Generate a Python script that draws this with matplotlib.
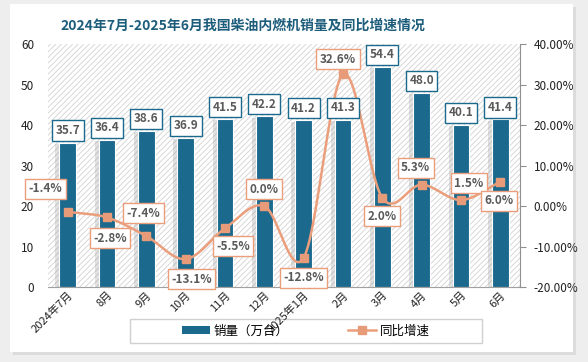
import matplotlib.pyplot as plt
import matplotlib.patheffects as pe
from matplotlib.patches import Rectangle
from matplotlib.lines import Line2D
import numpy as np

plt.rcParams['font.family'] = ['Noto Sans CJK SC', 'DejaVu Sans']
plt.rcParams['hatch.linewidth'] = 0.6

months = ['2024年7月', '8月', '9月', '10月', '11月', '12月', '2025年1月',
          '2月', '3月', '4月', '5月', '6月']
sales = [35.7, 36.4, 38.6, 36.9, 41.5, 42.2, 41.2, 41.3, 54.4, 48.0, 40.1, 41.4]
growth = [-1.4, -2.8, -7.4, -13.1, -5.5, 0.0, -12.8, 32.6, 2.0, 5.3, 1.5, 6.0]
# label offsets (pixels) for the growth labels
g_off = [(-22, 23), (3, -21), (-3, 23), (6, -20), (8, -18), (0, 17),
         (0, -20), (-5, 15), (0, -18), (-6, 17), (8, 17), (-1, -19)]

bar_c = '#1b6a8e'
line_c = '#eb9e7b'
txt_c = '#595959'

fig = plt.figure(figsize=(5.88, 3.62), dpi=100, facecolor='#eeeeee')
# white card with shadow
fig.patches.append(Rectangle((0.022, 0.018), 0.958, 0.962, transform=fig.transFigure,
                             facecolor='#dcdcdc', edgecolor='none', zorder=-10))
fig.patches.append(Rectangle((0.017, 0.028), 0.958, 0.962, transform=fig.transFigure,
                             facecolor='white', edgecolor='none', zorder=-9))
# legend frame
fig.patches.append(Rectangle((0.221, 0.0525), 0.599, 0.066, transform=fig.transFigure,
                             facecolor='white', edgecolor='#d0d0d0', linewidth=1, zorder=-5))

ax = fig.add_axes([0.0816, 0.207, 0.8027, 0.671])
ax.set_facecolor('white')
ax.add_patch(Rectangle((0, 0), 1, 1, transform=ax.transAxes, facecolor='white',
                       edgecolor='#d2d2d2', linewidth=0, hatch='//////', zorder=0))

x = np.arange(len(months))
bars = ax.bar(x, sales, width=0.42, color=bar_c, edgecolor='white', linewidth=0.8, zorder=2)
for b in bars:
    b.set_path_effects([pe.SimplePatchShadow(offset=(-3, -1), shadow_rgbFace='#8a8a8a', alpha=0.25),
                        pe.Normal()])
ax.set_xlim(-0.5, len(months) - 0.5)
ax.set_ylim(0, 60)
ax.set_yticks(range(0, 61, 10))
ax.tick_params(axis='y', length=0, labelsize=8.5, colors='#222222', pad=10)
ax.tick_params(axis='x', length=0, labelsize=8, colors='#222222', pad=2)
ax.set_xticks(x)
ax.set_xticklabels(months, rotation=45, ha='right', va='top', rotation_mode='anchor')
for s in ['top', 'right', 'left']:
    ax.spines[s].set_visible(False)
ax.spines['bottom'].set_color('#a0a0a0')

ax2 = ax.twinx()
ax2.set_ylim(-20, 40)
ax2.set_yticks(range(-20, 41, 10))
ax2.set_yticklabels([f'{t:.2f}%' for t in range(-20, 41, 10)])
ax2.tick_params(axis='y', direction='out', length=4, color='#909090', labelsize=8.5,
                labelcolor='#222222', pad=6)
for s in ['top', 'left', 'bottom']:
    ax2.spines[s].set_visible(False)
ax2.spines['right'].set_color('#909090')


def catmull(xs, ys, n=20):
    px = np.concatenate([[2 * xs[0] - xs[1]], xs, [2 * xs[-1] - xs[-2]]])
    py = np.concatenate([[2 * ys[0] - ys[1]], ys, [2 * ys[-1] - ys[-2]]])
    ox, oy = [], []
    t = np.linspace(0, 1, n)
    for i in range(1, len(px) - 2):
        for p, o in ((px, ox), (py, oy)):
            p0, p1, p2, p3 = p[i - 1], p[i], p[i + 1], p[i + 2]
            o.extend(0.5 * ((2 * p1) + (-p0 + p2) * t + (2 * p0 - 5 * p1 + 4 * p2 - p3) * t ** 2
                            + (-p0 + 3 * p1 - 3 * p2 + p3) * t ** 3))
    return ox, oy


sx, sy = catmull(x.astype(float), np.array(growth, dtype=float))
ax2.plot(sx, sy, color=line_c, linewidth=1.8, zorder=3)
ax2.plot(x, growth, linestyle='none', marker='s', markersize=6, color='#e89b78', zorder=4)

# bar labels drawn on ax2 so they sit above the line
for xi, v in zip(x, sales):
    ax2.annotate(f'{v:.1f}', (xi, v), xycoords=ax.transData, xytext=(0, 12),
                 textcoords='offset pixels', ha='center', va='center', fontsize=8.5,
                 fontweight='bold', color=txt_c,
                 bbox=dict(boxstyle='square,pad=0.3', facecolor='white', edgecolor=bar_c, linewidth=1),
                 zorder=5)

for xi, v, off in zip(x, growth, g_off):
    ax2.annotate(f'{v:.1f}%', (xi, v), xytext=off, textcoords='offset pixels',
                 ha='center', va='center', fontsize=8.5, fontweight='bold', color=txt_c,
                 bbox=dict(boxstyle='square,pad=0.3', facecolor='white', edgecolor=line_c, linewidth=1),
                 zorder=6)

fig.text(0.413, 0.928, '2024年7月-2025年6月我国柴油内燃机销量及同比增速情况', ha='center', va='center',
         fontsize=10, fontweight='bold', color='#1d5d7c')

handles = [Rectangle((0, 0), 1, 1, facecolor=bar_c, edgecolor='none'),
           Line2D([0], [0], color=line_c, linewidth=1.8, marker='s', markersize=6,
                  markerfacecolor='#e89b78', markeredgecolor='#e89b78')]
leg = fig.legend(handles, ['销量（万台）', '同比增速'], loc='center', ncol=2,
                 bbox_to_anchor=(0.52, 0.086), fontsize=9, frameon=False,
                 columnspacing=4.8, handlelength=2.2, handletextpad=0.3)

fig.savefig('out.png', dpi=100, facecolor=fig.get_facecolor())
